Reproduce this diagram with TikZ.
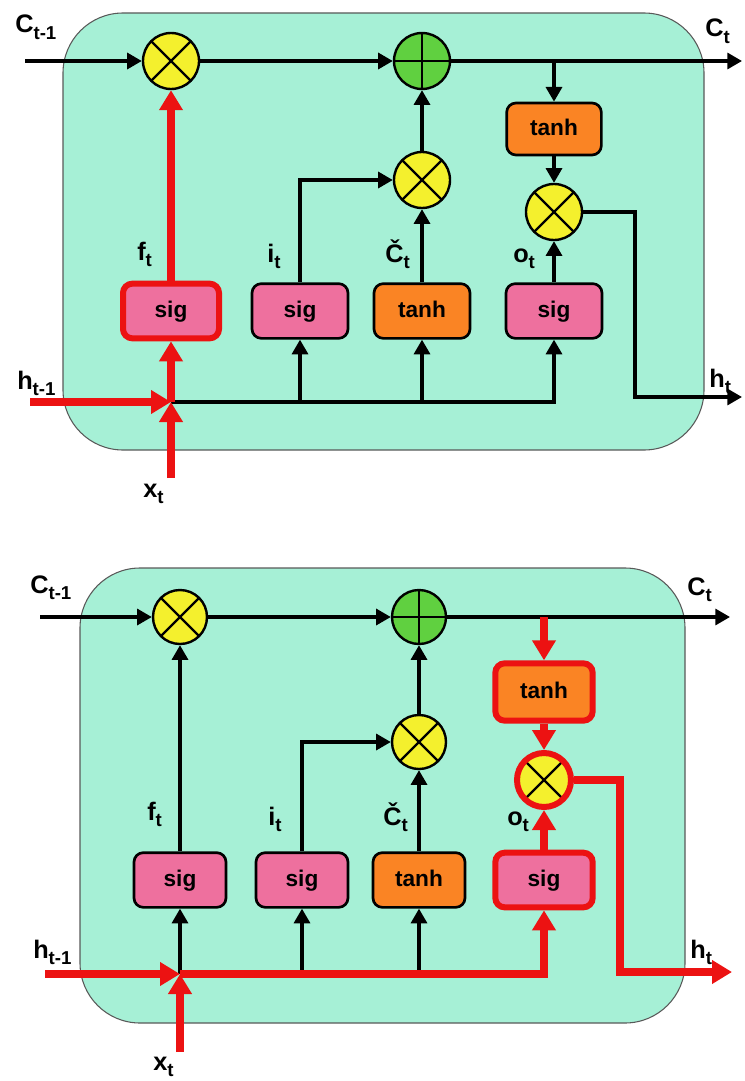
\documentclass[tikz,border=0pt]{standalone}
\usepackage{fontspec}
\setmainfont{Liberation Sans}
\usetikzlibrary{arrows.meta,positioning}

\definecolor{cellmint}{RGB}{166,240,214}
\definecolor{muly}{RGB}{244,240,45}
\definecolor{addg}{RGB}{96,208,64}
\definecolor{sigpink}{RGB}{238,112,158}
\definecolor{tanhor}{RGB}{250,132,36}
\definecolor{pathred}{RGB}{236,18,18}

\newcommand{\gsub}[1]{\raisebox{-0.45ex}{\fontsize{14}{14}\selectfont #1}}

\tikzset{
  cell/.style={draw=black!65, line width=0.8pt, fill=cellmint, rounded corners=45pt},
  gatebox/.style={draw, line width=2pt, rounded corners=7pt, minimum width=72pt,
    minimum height=41pt, inner sep=0pt, text height=12pt, text depth=2pt,
    font=\fontsize{17}{20}\selectfont\bfseries},
  sigbox/.style={gatebox, fill=sigpink},
  tanhbox/.style={gatebox, fill=tanhor},
  opnode/.style={circle, draw, line width=1.8pt, minimum size=42pt, inner sep=0pt},
  mulop/.style={opnode, fill=muly, path picture={
    \draw[black, line width=1.8pt]
      (path picture bounding box.north west) -- (path picture bounding box.south east)
      (path picture bounding box.north east) -- (path picture bounding box.south west);}},
  addop/.style={opnode, fill=addg, path picture={
    \draw[black, line width=1.8pt]
      (path picture bounding box.north) -- (path picture bounding box.south)
      (path picture bounding box.west) -- (path picture bounding box.east);}},
  hot/.style={draw=pathred, line width=4.5pt},
  glabel/.style={font=\fontsize{19}{20}\selectfont\bfseries, inner sep=0pt, anchor=base west},
  wire/.style={line width=2.4pt, -{Triangle[length=11pt,width=12pt]}},
  plainwire/.style={line width=2.4pt},
  redwire/.style={draw=pathred, line width=6pt, -{Triangle[length=15pt,width=17pt]}},
  redline/.style={draw=pathred, line width=6pt},
}

\begin{document}
\begin{tikzpicture}[x=0.75pt, y=-0.75pt]
  \useasboundingbox (0,0) rectangle (744,1081);

  % ---------- upper cell: forget gate highlighted ----------
  \draw[cell] (63,13) rectangle (704,450);
  \node[mulop] (fmul1) at (171,61) {};
  \node[addop] (add1) at (422,61) {};
  \node[mulop] (imul1) at (422,180) {};
  \node[tanhbox, minimum width=71pt, minimum height=39pt] (otanh1) at (554,129) {tanh};
  \node[mulop] (omul1) at (554,212) {};
  \node[sigbox, hot] (fsig1) at (171,311) {sig};
  \node[sigbox] (isig1) at (300,311) {sig};
  \node[tanhbox] (ctanh1) at (422,311) {tanh};
  \node[sigbox] (osig1) at (554,311) {sig};
  \coordinate (cin1) at (25,61);
  \coordinate (cout1) at (742,61);
  \coordinate (hin1) at (30,402);
  \coordinate (jn1) at (171,402);
  \coordinate (xin1) at (171,478);
  \coordinate (hout1) at (742,397);
  \coordinate (turn1) at (635,212);

  % cell state line
  \draw[wire] (cin1) -- (fmul1.west);
  \draw[wire] (fmul1.east) -- (add1.west);
  \draw[wire] (add1.east) -- (cout1);
  \draw[wire] (otanh1 |- add1) -- (otanh1.north);
  \draw[wire] (otanh1.south) -- (omul1.north);
  \draw[wire] (omul1.east) -- (turn1) |- (hout1);
  % gates
  \draw[wire] (imul1.north) -- (add1.south);
  \draw[wire] (ctanh1.north) -- (imul1.south);
  \draw[wire] (isig1.north) |- (imul1.west);
  \draw[wire] (osig1.north) -- (omul1.south);
  % input line
  \draw[wire] (jn1) -| (osig1.south);
  \draw[wire] (isig1 |- jn1) -- (isig1.south);
  \draw[wire] (ctanh1 |- jn1) -- (ctanh1.south);
  % forget path
  \draw[redwire] (hin1) -- (jn1);
  \draw[redwire] (xin1) -- (jn1);
  \draw[redwire] (jn1) -- (fsig1.south);
  \draw[redwire] (fsig1.north) -- (fmul1.south);

  \node[glabel] (lc1) at (15,33) {C\gsub{t-1}};
  \node[glabel] (lco1) at (705,37) {C\gsub{t}};
  \node[glabel] (lh1) at (17,389) {h\gsub{t-1}};
  \node[glabel] (lx1) at (143,497) {x\gsub{t}};
  \node[glabel] (lho1) at (709,387) {h\gsub{t}};
  \node[glabel] (lf1) at (137,260) {f\gsub{t}};
  \node[glabel] (li1) at (267,262) {i\gsub{t}};
  \node[glabel] (lct1) at (385,262) {Č\gsub{t}};
  \node[glabel] (lo1) at (513,262) {o\gsub{t}};

  % ---------- lower cell: output gate highlighted ----------
  \draw[cell] (80,568) rectangle (685,1023);
  \begin{scope}[gatebox/.append style={minimum width=69pt}, opnode/.append style={minimum size=40.5pt}]
  \node[mulop] (fmul2) at (180,617) {};
  \node[addop] (add2) at (419,617) {};
  \node[mulop] (imul2) at (419,742) {};
  \node[tanhbox, hot, minimum width=73pt, minimum height=43pt] (otanh2) at (544,692) {tanh};
  \node[mulop, hot] (omul2) at (544,780) {};
  \node[sigbox] (fsig2) at (180,880) {sig};
  \node[sigbox] (isig2) at (302,880) {sig};
  \node[tanhbox] (ctanh2) at (419,880) {tanh};
  \node[sigbox, hot, minimum width=73pt] (osig2) at (544,880) {sig};
  \end{scope}
  \coordinate (cin2) at (40,617);
  \coordinate (cout2) at (730,617);
  \coordinate (hin2) at (45,974);
  \coordinate (jn2) at (180,974);
  \coordinate (xin2) at (180,1052);
  \coordinate (hout2) at (732,972);
  \coordinate (turn2) at (620,780);

  % cell state line
  \draw[wire] (cin2) -- (fmul2.west);
  \draw[wire] (fmul2.east) -- (add2.west);
  \draw[wire] (add2.east) -- (cout2);
  % gates
  \draw[wire] (fsig2.north) -- (fmul2.south);
  \draw[wire] (imul2.north) -- (add2.south);
  \draw[wire] (ctanh2.north) -- (imul2.south);
  \draw[wire] (isig2.north) |- (imul2.west);
  \draw[wire] (jn2) -- (fsig2.south);
  \draw[wire] (isig2 |- jn2) -- (isig2.south);
  \draw[wire] (ctanh2 |- jn2) -- (ctanh2.south);
  % output path
  \draw[redwire] (hin2) -- (jn2);
  \draw[redwire] (xin2) -- (jn2);
  \draw[redwire] (jn2) -| (osig2.south);
  \draw[redwire] (osig2.north) -- (omul2.south);
  \draw[redwire] (otanh2 |- add2) -- (otanh2.north);
  \draw[redwire] (otanh2.south) -- (omul2.north);
  \draw[redwire] (omul2.east) -- (turn2) |- (hout2);

  \node[glabel] (lc2) at (30,593) {C\gsub{t-1}};
  \node[glabel] (lco2) at (687,595) {C\gsub{t}};
  \node[glabel] (lh2) at (33,958) {h\gsub{t-1}};
  \node[glabel] (lx2) at (153,1070) {x\gsub{t}};
  \node[glabel] (lho2) at (690,958) {h\gsub{t}};
  \node[glabel] (lf2) at (147,820) {f\gsub{t}};
  \node[glabel] (li2) at (268,825) {i\gsub{t}};
  \node[glabel] (lct2) at (383,825) {Č\gsub{t}};
  \node[glabel] (lo2) at (507,825) {o\gsub{t}};
\end{tikzpicture}
\end{document}
